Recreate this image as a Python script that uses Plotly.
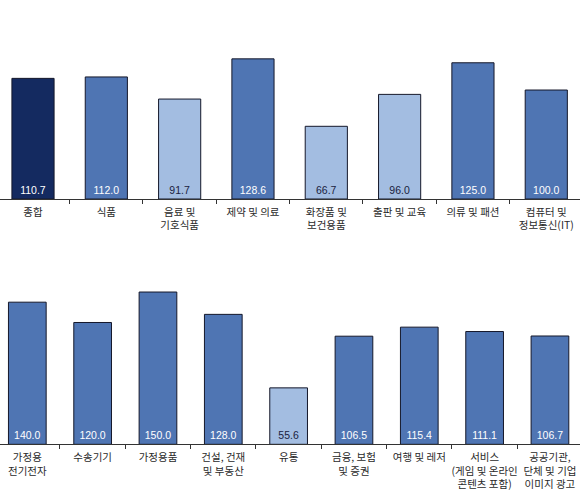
import plotly.graph_objects as go

# top row
TOP_CATS = ['종합', '식품', '음료 및<br>기호식품', '제약 및 의료', '화장품 및<br>보건용품',
            '출판 및 교육', '의류 및 패션', '컴퓨터 및<br>정보통신(IT)']
TOP_VALUES = [110.7, 112.0, 91.7, 128.6, 66.7, 96.0, 125.0, 100.0]
TOP_SHADE = ['dark', 'mid', 'light', 'mid', 'light', 'light', 'mid', 'mid']

# bottom row
BOT_CATS = ['가정용<br>전기전자', '수송기기', '가정용품', '건설, 건재<br>및 부동산', '유통',
            '금융, 보험<br>및 증권', '여행 및 레저', '서비스<br>(게임 및 온라인<br>콘텐츠 포함)',
            '공공기관,<br>단체 및 기업<br>이미지 광고']
BOT_VALUES = [140.0, 120.0, 150.0, 128.0, 55.6, 106.5, 115.4, 111.1, 106.7]
BOT_SHADE = ['mid', 'mid', 'mid', 'mid', 'light', 'mid', 'mid', 'mid', 'mid']

FILL = {'dark': '#142a60', 'mid': '#4f75b3', 'light': '#a3bde1'}
TXT = {'dark': 'white', 'mid': 'white', 'light': '#1a2240'}

LABEL_FONT = 'Liberation Sans Narrow, Arial Narrow, Liberation Sans, sans-serif'
CAT_FONT = 'Noto Sans CJK KR'

fig = go.Figure()

fig.add_trace(go.Bar(
    x=TOP_CATS, y=TOP_VALUES,
    marker=dict(color=[FILL[s] for s in TOP_SHADE], line=dict(color='#15182a', width=1)),
    width=0.575,
    text=[f'{v:.1f}' for v in TOP_VALUES],
    textposition='inside', insidetextanchor='start', textangle=0,
    textfont=dict(family=LABEL_FONT, size=10.5, color=[TXT[s] for s in TOP_SHADE]),
    xaxis='x', yaxis='y', showlegend=False,
))
fig.add_trace(go.Bar(
    x=BOT_CATS, y=BOT_VALUES,
    marker=dict(color=[FILL[s] for s in BOT_SHADE], line=dict(color='#15182a', width=1)),
    width=0.577,
    text=[f'{v:.1f}' for v in BOT_VALUES],
    textposition='inside', insidetextanchor='start', textangle=0,
    textfont=dict(family=LABEL_FONT, size=10.5, color=[TXT[s] for s in BOT_SHADE]),
    xaxis='x2', yaxis='y2', showlegend=False,
))

axis_common = dict(
    type='category', showline=True, linecolor='#333333', linewidth=1,
    ticks='outside', tickson='boundaries', ticklen=4, tickcolor='#333333',
    tickfont=dict(family=CAT_FONT, size=10.5, color='#2a2a2a'),
    tickangle=0, automargin=False, ticklabelstandoff=3,
    showgrid=False, zeroline=False, fixedrange=True,
)

fig.update_layout(
    width=580, height=498,
    margin=dict(l=0, r=0, t=0, b=0),
    paper_bgcolor='white', plot_bgcolor='white',
    xaxis=dict(axis_common, domain=[0, 1], anchor='y', range=[-0.45, 7.46]),
    yaxis=dict(domain=[0.6004, 1], range=[0, 182.6], visible=False, anchor='x'),
    xaxis2=dict(axis_common, domain=[0, 1], anchor='y2', range=[-0.418, 8.46]),
    yaxis2=dict(domain=[0.1078, 0.498], range=[0, 191.4], visible=False, anchor='x2'),
)

# drop the default page margin so the figure sits at the window corner
fig.write_html('out.html', config={'displayModeBar': False},
               post_script="document.body.style.margin='0';")
